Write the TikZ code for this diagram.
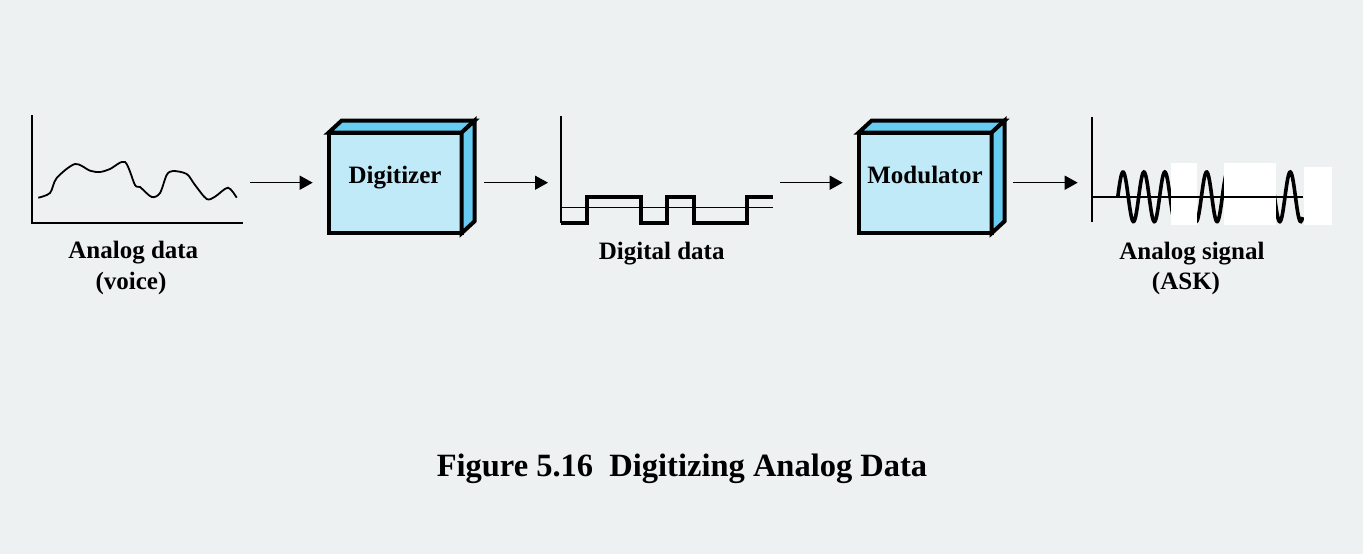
\documentclass[tikz,border=0pt]{standalone}
\usepackage{fontspec}
\setmainfont{Liberation Serif}
\usetikzlibrary{arrows.meta}
\definecolor{bg}{RGB}{238,241,242}
\definecolor{boxfront}{RGB}{192,234,248}
\definecolor{boxside}{RGB}{102,204,242}
\begin{document}
\begin{tikzpicture}[x=1pt,y=-1pt,
  lbl/.style={font=\fontsize{25}{30}\selectfont\bfseries, anchor=base, inner sep=0pt},
  captxt/.style={font=\fontsize{32.5}{38}\selectfont\bfseries, anchor=base, inner sep=0pt},
  box/.style={draw=black, line width=4pt, fill=boxfront, minimum width=133pt, minimum height=100.6pt,
    inner sep=0pt, outer sep=0pt, text height=0pt, text depth=0pt,
    font=\fontsize{25}{30}\selectfont\bfseries},
  face/.style={draw=black, line width=4pt, fill=boxside},
  axis/.style={line width=2pt},
  arr/.style={line width=1.5pt, -{Triangle[length=13pt,width=14pt]}},
  wave/.style={line width=3.6pt}]
\fill[bg] (0,0) rectangle (1363,554);
\useasboundingbox (0,0) rectangle (1363,554);

% ---- analog data (voice)
\draw[axis] (32,115) -- (32,222.7) -- (243,222.7);
\draw[line width=1.8pt] plot[smooth, tension=0.5] coordinates {
 (38.3,197.7) (50,193) (56.7,178) (75,164) (90,170.7) (100,172) (110,169) (125,162)
 (135,185) (140,187) (151.7,197) (160,193) (166.7,175) (173,171) (186.7,174) (195,185)
 (206.7,199) (215,196.7) (228,187.7) (236.7,197.7)};
\node[lbl] (l1) at (133.3,258.5) {Analog data};
\node[lbl] (l1b) at (131,289) {(voice)};

% ---- Digitizer
\node[box] (dig) at (395,183) {Digitizer};
\draw[face] (dig.north west) -- ++(13,-12) -- ([shift={(13,-12)}]dig.north east) -- (dig.north east) -- cycle;
\draw[face] (dig.north east) -- ++(13,-12) -- ([shift={(13,-12)}]dig.south east) -- (dig.south east) -- cycle;

% ---- digital data
\draw[axis] (561,116) -- (561,223);
\draw[line width=1.5pt] (561,207.3) -- (772.7,207.3);
\draw[line width=4pt] (561,222.7) -- (587.3,222.7) -- (587.3,197.3) -- (641,197.3) -- (641,222.7)
  -- (667.3,222.7) -- (667.3,197.3) -- (694,197.3) -- (694,222.7) -- (747.3,222.7)
  -- (747.3,197.3) -- (772.7,197.3);
\node[lbl] (l2) at (661.7,259) {Digital data};

% ---- Modulator
\node[box] (mod) at (925,183) {Modulator};
\draw[face] (mod.north west) -- ++(13,-12) -- ([shift={(13,-12)}]mod.north east) -- (mod.north east) -- cycle;
\draw[face] (mod.north east) -- ++(13,-12) -- ([shift={(13,-12)}]mod.south east) -- (mod.south east) -- cycle;

% ---- analog signal (ASK)
\draw[wave] plot[domain=0:184.9, samples=300] ({\x+1117.8}, {196.8 - 24.8*sin(17.2249*\x)});
\fill[white] (1171,163.3) rectangle (1196.7,224.5);
\fill[white] (1224,163.3) rectangle (1276,224.5);
\fill[white] (1304,166.7) rectangle (1331.7,225);
\draw[axis] (1091.7,116.7) -- (1091.7,221.7);
\draw[line width=1.8pt] (1091.7,197.3) -- (1302.7,197.3);
\node[lbl] (l3) at (1192,259) {Analog signal};
\node[lbl] (l3b) at (1186,289) {(ASK)};

% ---- arrows
\coordinate (a1s) at (250,182.7);   \coordinate (a1e) at (312.7,182.7);
\coordinate (a2s) at (484,182.7);   \coordinate (a2e) at (548,182.7);
\coordinate (a3s) at (780,182.7);   \coordinate (a3e) at (842.7,182.7);
\coordinate (a4s) at (1013.3,182.7);\coordinate (a4e) at (1077.7,182.7);
\draw[arr] (a1s) -- (a1e);
\draw[arr] (a2s) -- (a2e);
\draw[arr] (a3s) -- (a3e);
\draw[arr] (a4s) -- (a4e);

% ---- caption
\node[captxt] (figcap) at (682,476.5) {Figure 5.16\hspace{0.5em}Digitizing Analog Data};
\end{tikzpicture}
\end{document}
